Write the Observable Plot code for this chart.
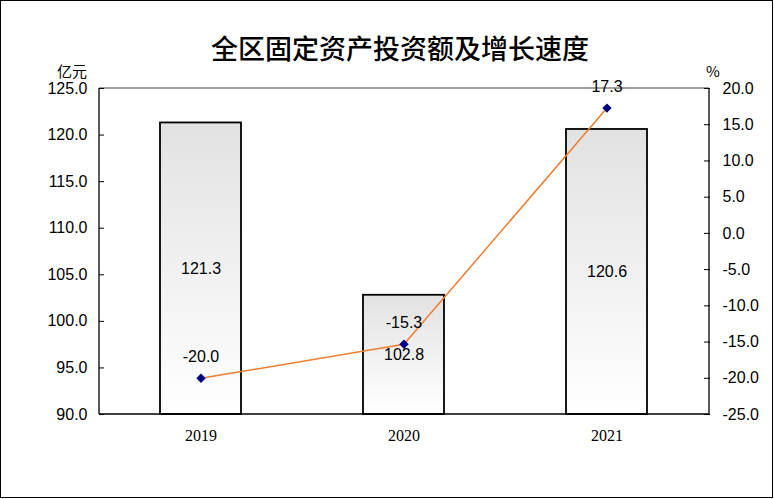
<!DOCTYPE html>
<html>
<head>
<meta charset="utf-8">
<script src="https://cdn.jsdelivr.net/npm/d3@7"></script>
<script src="https://cdn.jsdelivr.net/npm/@observablehq/plot@0.6"></script>
<style>
  html, body { margin: 0; padding: 0; background: #fff; }
  #wrap { position: relative; width: 774px; height: 499px; overflow: hidden; }
  #border { position: absolute; left: 0; top: 0; width: 771px; height: 496px; border: 1px solid #000; pointer-events: none; }
  #title { position: absolute; left: 0; width: 800px; top: 28px; text-align: center; font-family: "Noto Sans CJK SC", sans-serif; font-size: 27px; font-weight: 500; color: #000; }
  .unit { position: absolute; top: 60px; font-family: "Noto Sans CJK SC", "Liberation Sans", sans-serif; font-size: 15px; color: #000; }
</style>
</head>
<body>
<div id="wrap">
  <div id="chart"></div>
  <div id="title">全区固定资产投资额及增长速度</div>
  <div class="unit" style="left:57px">亿元</div>
  <div class="unit" style="left:706px">%</div>
  <div id="border"></div>
</div>
<script>
const years = ["2019", "2020", "2021"];
const investment = [121.3, 102.8, 120.6];   // 亿元
const growth = [-20.0, -15.3, 17.3];         // %
const leftTicks = [90, 95, 100, 105, 110, 115, 120, 125];
const rightTicks = [-25, -20, -15, -10, -5, 0, 5, 10, 15, 20];

const yMin = 90, yMax = 125;
const toLeft = d3.scaleLinear().domain([-25, 20]).range([yMin, yMax]);
const fromLeft = toLeft.invert;
const fmt1 = v => (Math.round(v * 10) / 10 + 0).toFixed(1);

const rows = years.map((year, i) => ({
  year, inv: investment[i], g: growth[i], gL: toLeft(growth[i])
}));

const paddingInner = 0.6;

const defsMark = () => {
  const defs = d3.create("svg:defs");
  const lg = defs.append("linearGradient").attr("id", "barGrad")
    .attr("x1", 0).attr("y1", 0).attr("x2", 0).attr("y2", 1);
  lg.append("stop").attr("offset", "0%").attr("stop-color", "#e2e2e2");
  lg.append("stop").attr("offset", "100%").attr("stop-color", "#ffffff");
  return defs.node();
};

const frameMark = (index, scales, values, dims) => {
  const {width, height, marginLeft, marginRight, marginTop, marginBottom} = dims;
  const x0 = marginLeft, x1 = width - marginRight;
  const y0 = marginTop, y1 = height - marginBottom;
  const g = d3.create("svg:g").attr("fill", "none").attr("stroke-width", 1.3);
  g.append("line").attr("x1", x0).attr("x2", x1).attr("y1", y0).attr("y2", y0).attr("stroke", "#808080").attr("stroke-width", 1.5);
  g.append("line").attr("x1", x0).attr("x2", x1).attr("y1", y1).attr("y2", y1).attr("stroke", "#000");
  g.append("line").attr("x1", x0).attr("x2", x0).attr("y1", y0).attr("y2", y1).attr("stroke", "#000");
  g.append("line").attr("x1", x1).attr("x2", x1).attr("y1", y0).attr("y2", y1).attr("stroke", "#000");
  const step = scales.x(years[1]) - scales.x(years[0]);
  const bw = scales.x.bandwidth ?? step * (1 - paddingInner);
  for (let i = 1; i < years.length; i++) {
    const bx = scales.x(years[i]) - (step - bw) / 2;
    g.append("line").attr("x1", bx).attr("x2", bx).attr("y1", y1).attr("y2", y1 - 6).attr("stroke", "#000");
  }
  return g.node();
};

const chart = Plot.plot({
  width: 774,
  height: 499,
  marginLeft: 99,
  marginRight: 65,
  marginTop: 88,
  marginBottom: 85,
  style: { fontFamily: "Liberation Sans, Arial, sans-serif", fontSize: "16px", color: "#000", background: "transparent", overflow: "visible" },
  x: { type: "band", domain: years, paddingInner: paddingInner, paddingOuter: 0.3, axis: null, label: null },
  y: { domain: [yMin, yMax], axis: null, label: null },
  marks: [
    defsMark,
    Plot.barY(rows, { x: "year", y1: yMin, y2: "inv", fill: "url(#barGrad)", stroke: "#000", strokeWidth: 1.8 }),
    frameMark,
    Plot.axisY(leftTicks, { anchor: "left", tickSize: -5, tickPadding: 17, tickFormat: fmt1, stroke: "#000", fontSize: 16, label: null }),
    Plot.axisY(rightTicks.map(toLeft), { anchor: "right", tickSize: -6, tickPadding: 19, tickFormat: d => fmt1(fromLeft(d)), stroke: "#000", fontSize: 16, label: null }),
    Plot.axisX({ anchor: "bottom", tickSize: 0, tickPadding: 15, fontFamily: "Liberation Serif, serif", fontSize: 16, label: null }),
    Plot.text(rows, { x: "year", y: d => (yMin + d.inv) / 2, text: d => d.inv.toFixed(1), fill: "#000", fontSize: 16 }),
    Plot.line(rows, { x: "year", y: "gL", stroke: "#ED7D31", strokeWidth: 1.5 }),
    Plot.dot(rows, { x: "year", y: "gL", symbol: "diamond2", r: 4.2, fill: "#000080", stroke: "none" }),
    Plot.text(rows, { x: "year", y: "gL", text: d => d.g.toFixed(1), dy: -21, fill: "#000", fontSize: 16 })
  ]
});
document.getElementById("chart").appendChild(chart);
</script>
</body>
</html>
